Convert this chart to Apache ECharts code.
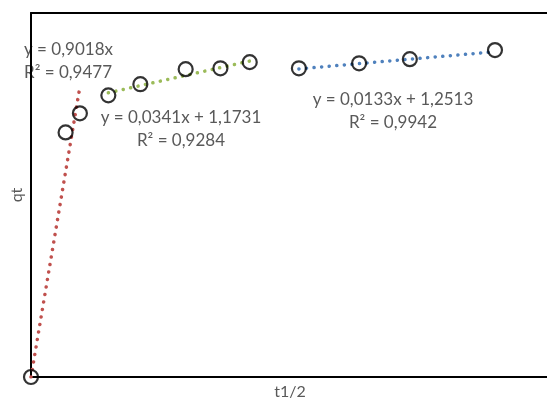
<!DOCTYPE html>
<html>
<head>
<meta charset="utf-8">
<script src="https://cdn.jsdelivr.net/npm/echarts@6/dist/echarts.min.js"></script>
<style>
  html, body { margin: 0; padding: 0; background: #fff; }
  #chart { width: 547px; height: 401px; }
</style>
</head>
<body>
<div id="chart"></div>
<script>
// Square root of time (t1/2) and measured uptake qt
const tHalf = [0, 1, 1.414, 2.236, 3.162, 4.472, 5.477, 6.325, 7.746, 9.487, 10.954, 13.416];
const qt    = [0, 1.075, 1.159, 1.238, 1.287, 1.353, 1.357, 1.384, 1.357, 1.379, 1.397, 1.437];

// Linear fits for the three stages: slope, intercept, x range
const fitSlope     = [0.9018, 0.0341, 0.0133];
const fitIntercept = [0, 1.1731, 1.2513];
const fitFrom      = [0, 2.236, 7.746];
const fitTo        = [1.414, 6.325, 13.416];
const fitColors    = ['#C0504D', '#9BBB59', '#4F81BD'];
const fitEquations = ['y = 0,9018x', 'y = 0,0341x + 1,1731', 'y = 0,0133x + 1,2513'];
const fitR2        = ['R² = 0,9477', 'R² = 0,9284', 'R² = 0,9942'];

const font = 'Lato, "Open Sans", sans-serif';
const textColor = '#595959';

const fitSeries = fitSlope.map((m, i) => ({
  type: 'line',
  data: [fitFrom[i], fitTo[i]].map(x => [x, m * x + fitIntercept[i]]),
  symbol: 'none',
  silent: true,
  z: 3,
  lineStyle: { color: fitColors[i], width: 3.5, type: [0.1, 7.5], cap: 'round' }
}));

// Equation boxes: [x, y, align] for each fit
const boxPos = [[24, 50, 'left'], [181, 118, 'center'], [393, 100, 'center']];
const labels = [];
boxPos.forEach((p, i) => {
  [fitEquations[i], fitR2[i]].forEach((t, k) => {
    labels.push({
      type: 'text', x: p[0], y: p[1] + k * 23,
      style: { text: t, fill: textColor, font: '17px ' + font, textAlign: p[2], textVerticalAlign: 'middle' }
    });
  });
});
labels.push({
  type: 'text', x: 17, y: 195, rotation: Math.PI / 2,
  style: { text: 'qt', fill: textColor, font: '16px ' + font, textAlign: 'center', textVerticalAlign: 'middle' }
});
labels.push({
  type: 'text', x: 290, y: 392,
  style: { text: 't1/2', fill: textColor, font: '16px ' + font, textAlign: 'center', textVerticalAlign: 'middle' }
});

const plainAxis = {
  type: 'value',
  axisLine: { show: true, onZero: false, lineStyle: { color: '#000', width: 2 } },
  axisTick: { show: false }, axisLabel: { show: false }, splitLine: { show: false }
};

const chart = echarts.init(document.getElementById('chart'), null, { renderer: 'canvas' });
chart.setOption({
  animation: false,
  backgroundColor: '#fff',
  grid: { left: 31, top: 13, width: 518, bottom: 24 },
  xAxis: [
    Object.assign({}, plainAxis, { min: 0, max: 14.92, position: 'bottom' }),
    Object.assign({}, plainAxis, { min: 0, max: 14.92, position: 'top' })
  ],
  yAxis: Object.assign({}, plainAxis, { min: 0, max: 1.6 }),
  series: [
    ...fitSeries,
    {
      type: 'scatter',
      data: tHalf.map((x, i) => [x, qt[i]]),
      symbol: 'circle',
      symbolSize: 14,
      z: 4,
      itemStyle: { color: 'rgba(255,255,255,0)', borderColor: '#000', borderWidth: 2.2 }
    }
  ],
  graphic: labels
});
</script>
</body>
</html>
